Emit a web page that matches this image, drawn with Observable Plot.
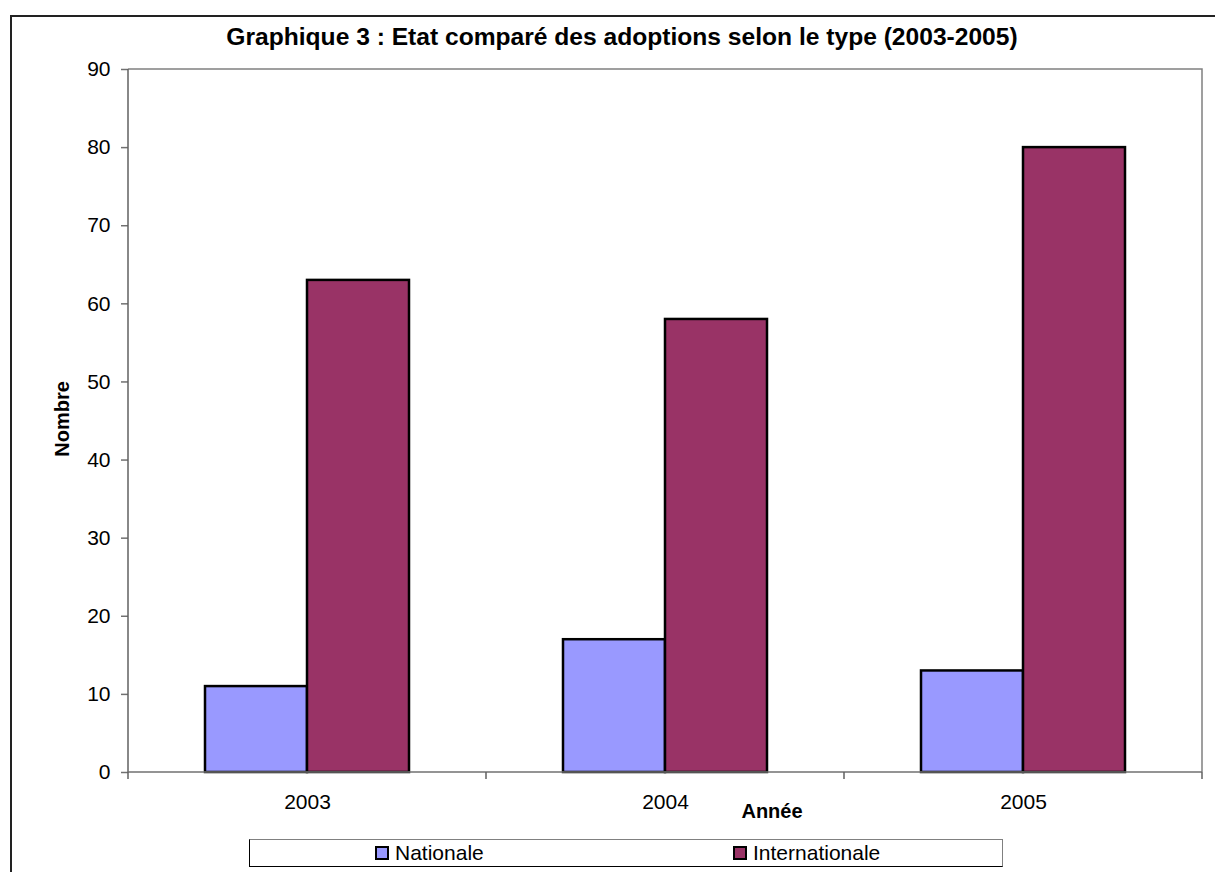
<!DOCTYPE html>
<html>
<head>
<meta charset="utf-8">
<script src="https://cdn.jsdelivr.net/npm/d3@7"></script>
<script src="https://cdn.jsdelivr.net/npm/@observablehq/plot@0.6"></script>
<style>
  html, body { margin: 0; padding: 0; background: #fff; }
  body { font-family: "Liberation Sans", Arial, sans-serif; }
  #wrap { position: relative; width: 1215px; height: 872px; overflow: hidden; }
  #outer { position: absolute; left: 10px; top: 15px; right: -10px; bottom: -10px;
           border-top: 2px solid #222; border-left: 2px solid #222; pointer-events: none; }
  #legend { position: absolute; left: 249px; top: 839px; width: 752px; height: 26px;
            border: 1px solid #000; border-top-color: #808080; border-right-color: #808080;
            background: #fff; font-size: 21px; color: #000; }
  .item { position: absolute; top: 0; height: 26px; display: flex; align-items: center; white-space: nowrap; }
  .sw { width: 10px; height: 10px; border: 2px solid #000; margin-right: 6px; }
</style>
</head>
<body>
<div id="wrap">
  <div id="chart"></div>
  <div id="outer"></div>
  <div id="legend"></div>
</div>
<script>
const years = ["2003", "2004", "2005"];
const types = ["Nationale", "Internationale"];
const nationale = [11, 17, 13];
const internationale = [63, 58, 80];
const colors = ["#9999FF", "#993366"];
const yTicks = [0, 10, 20, 30, 40, 50, 60, 70, 80, 90];
const title = "Graphique 3 : Etat comparé des adoptions selon le type (2003-2005)";
const xLabel = "Année";
const yLabel = "Nombre";

const data = years.flatMap((yr, i) => [
  {year: yr, type: types[0], value: nationale[i]},
  {year: yr, type: types[1], value: internationale[i]}
]);

const font = "'Liberation Sans', Arial, sans-serif";

const plot = Plot.plot({
  width: 1215,
  height: 872,
  marginLeft: 127,
  marginRight: 13,
  marginTop: 69,
  marginBottom: 100,
  style: {fontFamily: font, background: "transparent", color: "#000"},
  fx: {domain: years, padding: 0, label: null},
  x: {domain: types, paddingInner: 0, paddingOuter: 0.745, axis: null},
  y: {domain: [0, 90], label: null},
  color: {domain: types, range: colors},
  marks: [
    Plot.barY(data, {fx: "year", x: "type", y: "value", fill: "type", stroke: "#000", strokeWidth: 2.5}),
    Plot.axisY({ticks: yTicks, tickSize: 7, tickPadding: 11, fontSize: 21, label: null, stroke: "#707070", strokeWidth: 1.5}),
    Plot.axisFx({anchor: "bottom", tickSize: 0, tickPadding: 22, fontSize: 21, label: null})
  ]
});
document.getElementById("chart").appendChild(plot);

// frame, axis lines and category boundary ticks derived from the scales
const svg = d3.select(plot);
const fx = plot.scale("fx");
const y = plot.scale("y");
const x0 = fx.apply(years[0]);
const x1 = fx.apply(years[years.length - 1]) + fx.bandwidth;
const yBottom = y.apply(0);
const yTop = y.apply(90);
const g = svg.append("g");
g.append("path").attr("d", `M${x0},${yTop}H${x1}V${yBottom}`).attr("fill", "none").attr("stroke", "#808080").attr("stroke-width", 1.5);
g.append("line").attr("x1", x0).attr("x2", x0).attr("y1", yTop).attr("y2", yBottom).attr("stroke", "#606060").attr("stroke-width", 1.5);
g.append("line").attr("x1", x0).attr("x2", x1).attr("y1", yBottom).attr("y2", yBottom).attr("stroke", "#707070").attr("stroke-width", 1.5);
const bounds = years.map(yr => fx.apply(yr)).concat([x1]);
bounds.forEach(bx => {
  g.append("line").attr("x1", bx).attr("x2", bx).attr("y1", yBottom).attr("y2", yBottom + 7).attr("stroke", "#606060").attr("stroke-width", 1.5);
});
svg.append("text").attr("x", 622).attr("y", 45).attr("text-anchor", "middle")
  .attr("font-size", 24.6).attr("font-weight", "bold").attr("font-family", font).attr("fill", "#000").text(title);
svg.append("text").attr("x", 772).attr("y", 818).attr("text-anchor", "middle")
  .attr("font-size", 20).attr("font-weight", "bold").attr("font-family", font).attr("fill", "#000").text(xLabel);
svg.append("text").attr("transform", "translate(69,419) rotate(-90)").attr("text-anchor", "middle")
  .attr("font-size", 20).attr("font-weight", "bold").attr("font-family", font).attr("fill", "#000").text(yLabel);

const legend = d3.select("#legend");
const itemLeft = [125, 483];
types.forEach((t, i) => {
  const it = legend.append("div").attr("class", "item").style("left", itemLeft[i] + "px");
  it.append("div").attr("class", "sw").style("background", colors[i]);
  it.append("span").text(t);
});
</script>
</body>
</html>
